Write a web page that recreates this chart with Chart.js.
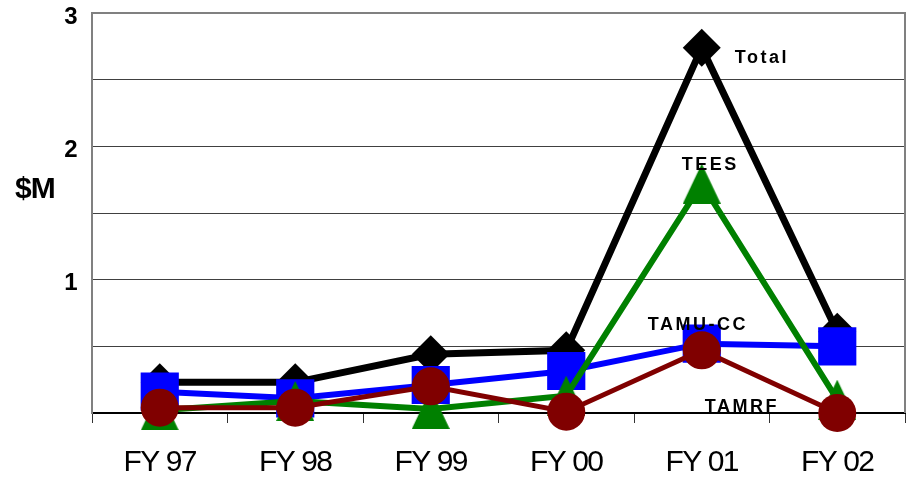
<!DOCTYPE html>
<html>
<head>
<meta charset="utf-8">
<script src="https://cdn.jsdelivr.net/npm/chart.js@4"></script>
<style>
html, body { margin: 0; padding: 0; background: #fff; }
#wrap { width: 908px; height: 477px; }
</style>
</head>
<body>
<div id="wrap"><canvas id="fundingChart"></canvas></div>
<script>
// values in $M
const years = ['FY 97', 'FY 98', 'FY 99', 'FY 00', 'FY 01', 'FY 02'];
const totalVals = [0.23, 0.23, 0.44, 0.47, 2.74, 0.61];
const tamuccVals = [0.16, 0.11, 0.21, 0.315, 0.52, 0.5];
const teesVals = [0.02, 0.09, 0.03, 0.13, 1.72, 0.1];
const tamrfVals = [0.04, 0.04, 0.2, 0.01, 0.47, 0.0];
const yTickLabels = [1, 2, 3];

const FONT = '"Liberation Sans", Arial, sans-serif';

// centred triangle marker (built-in one sits on its centroid)
function triangleMarker(w, h, color) {
    var c = document.createElement('canvas');
    c.width = w; c.height = h;
    var g = c.getContext('2d');
    g.fillStyle = color;
    g.beginPath();
    g.moveTo(w / 2, 0);
    g.lineTo(w, h);
    g.lineTo(0, h);
    g.closePath();
    g.fill();
    return c;
}

function noPadding(scale) {
    scale.paddingTop = 0;
    scale.paddingBottom = 0;
    scale.paddingLeft = 0;
    scale.paddingRight = 0;
}

// series names written next to the FY01 points, plus the $M title and frame
const seriesNames = {
    'Total':   { dx: 33,  v: 2.625 },
    'TEES':    { dx: -20, v: 1.8225 },
    'TAMU-CC': { dx: -54, v: 0.6225 },
    'TAMRF':   { dx: 3,   v: 0.0075 }
};

const textPlugin = {
    id: 'textPlugin',
    beforeDraw(chart) {
        // the axis labels in the original are set tight
        chart.ctx.letterSpacing = '-1.5px';
    },
    afterDraw(chart) {
        const ctx = chart.ctx;
        const xs = chart.scales.x, ys = chart.scales.y, a = chart.chartArea;
        ctx.save();
        // frame top + right
        ctx.strokeStyle = '#808080';
        ctx.lineWidth = 2;
        ctx.beginPath();
        ctx.moveTo(a.left, a.top);
        ctx.lineTo(a.right, a.top);
        ctx.lineTo(a.right, a.bottom);
        ctx.stroke();

        ctx.fillStyle = '#000';
        ctx.textAlign = 'left';
        ctx.textBaseline = 'alphabetic';
        ctx.font = 'bold 18px ' + FONT;
        ctx.letterSpacing = '2.5px';
        chart.data.datasets.forEach(function (ds) {
            const p = seriesNames[ds.label];
            if (!p) return;
            ctx.fillText(ds.label, xs.getPixelForValue(4) + p.dx, ys.getPixelForValue(p.v));
        });
        ctx.letterSpacing = '-1px';
        ctx.font = 'bold 30px ' + FONT;
        ctx.fillText('$M', 15, 198);
        ctx.restore();
        ctx.letterSpacing = '0px';
    }
};

var ctx = document.getElementById('fundingChart').getContext('2d');
new Chart(ctx, {
    type: 'line',
    data: {
        labels: years,
        datasets: [{
            label: 'TAMRF',
            data: tamrfVals,
            borderColor: '#800000',
            backgroundColor: '#800000',
            borderWidth: 5,
            pointStyle: 'circle',
            pointRadius: 19,
            pointBorderWidth: 0,
            clip: false
        }, {
            label: 'TEES',
            data: teesVals,
            borderColor: '#008000',
            backgroundColor: '#008000',
            borderWidth: 6,
            pointStyle: triangleMarker(38, 40, '#008000'),
            pointRadius: 20,
            clip: false
        }, {
            label: 'TAMU-CC',
            data: tamuccVals,
            borderColor: '#0000ff',
            backgroundColor: '#0000ff',
            borderWidth: 6,
            pointStyle: 'rect',
            pointRadius: 27,
            pointBorderWidth: 0,
            clip: false
        }, {
            label: 'Total',
            data: totalVals,
            borderColor: '#000000',
            backgroundColor: '#000000',
            borderWidth: 7,
            pointStyle: 'rectRot',
            pointRadius: 19,
            pointBorderWidth: 0,
            clip: false
        }]
    },
    options: {
        responsive: true,
        maintainAspectRatio: false,
        animation: false,
        events: [],
        layout: { autoPadding: false, padding: { top: 13, right: 3, left: 0, bottom: 0 } },
        plugins: {
            legend: { display: false },
            tooltip: { enabled: false }
        },
        scales: {
            x: {
                offset: true,
                grid: {
                    offset: true,
                    drawOnChartArea: false,
                    drawTicks: true,
                    tickLength: 10,
                    color: '#333'
                },
                border: { color: '#000', width: 2 },
                ticks: {
                    color: '#000',
                    font: { family: FONT, size: 30 },
                    padding: 22,
                    maxRotation: 0
                },
                afterFit: function (scale) { scale.height = 64; noPadding(scale); }
            },
            y: {
                min: 0,
                max: 3,
                grid: { color: '#404040', lineWidth: 1, drawTicks: false },
                border: { color: '#808080', width: 2 },
                ticks: {
                    stepSize: 0.5,
                    padding: 16,
                    labelOffset: 4,
                    color: '#000',
                    font: { family: FONT, size: 24, weight: 'bold' },
                    callback: function (v) {
                        return yTickLabels.indexOf(v) >= 0 ? String(v) : '';
                    }
                },
                afterFit: function (scale) { scale.width = 92; noPadding(scale); }
            }
        }
    },
    plugins: [textPlugin]
});
</script>
</body>
</html>
